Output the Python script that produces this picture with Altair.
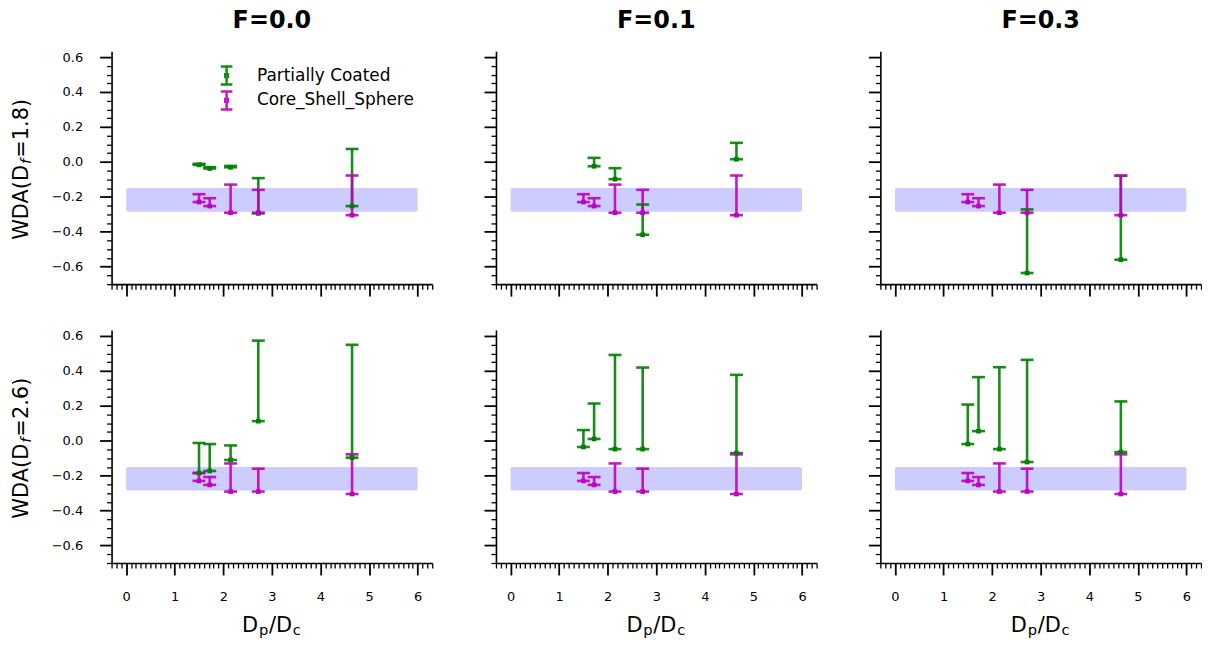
import altair as alt
import pandas as pd

# ---------------- data ----------------
XS = [1.5, 1.72, 2.15, 2.72, 4.65]
SERIES = ["Partially Coated", "Core_Shell_Sphere"]
COLORS = ["#008000", "#bf00bf"]
F_TITLES = ["F=0.0", "F=0.1", "F=0.3"]
DF_VALUES = ["1.8", "2.6"]

# Core_Shell_Sphere (identical in every panel)
CS_LOW = [-0.230, -0.253, -0.291, -0.291, -0.305]
CS_HIGH = [-0.185, -0.208, -0.130, -0.160, -0.078]

# Partially Coated, Df=1.8
PC_LOW_18_F00 = [-0.017, -0.038, -0.031, -0.295, -0.253]
PC_HIGH_18_F00 = [-0.011, -0.030, -0.023, -0.093, 0.074]
PC_LOW_18_F01 = [None, -0.025, -0.099, -0.417, 0.015]
PC_HIGH_18_F01 = [None, 0.023, -0.036, -0.244, 0.109]
PC_LOW_18_F03 = [None, None, None, -0.636, -0.560]
PC_HIGH_18_F03 = [None, None, None, -0.272, -0.080]

# Partially Coated, Df=2.6
PC_LOW_26_F00 = [-0.185, -0.173, -0.110, 0.112, -0.097]
PC_HIGH_26_F00 = [-0.013, -0.019, -0.027, 0.573, 0.549]
PC_LOW_26_F01 = [-0.036, 0.010, -0.048, -0.048, -0.071]
PC_HIGH_26_F01 = [0.061, 0.213, 0.491, 0.419, 0.377]
PC_LOW_26_F03 = [-0.019, 0.055, -0.048, -0.122, -0.065]
PC_HIGH_26_F03 = [0.207, 0.364, 0.421, 0.463, 0.225]

PC_LOW = [[PC_LOW_18_F00, PC_LOW_18_F01, PC_LOW_18_F03],
          [PC_LOW_26_F00, PC_LOW_26_F01, PC_LOW_26_F03]]
PC_HIGH = [[PC_HIGH_18_F00, PC_HIGH_18_F01, PC_HIGH_18_F03],
           [PC_HIGH_26_F00, PC_HIGH_26_F01, PC_HIGH_26_F03]]

# reference band
BAND_X0, BAND_X1 = [0.0], [6.0]
BAND_Y0, BAND_Y1 = [-0.285], [-0.150]

X_DOMAIN = [-0.3, 6.3]
Y_DOMAIN = [-0.7, 0.634]
X_TICKS = [round(-0.3 + 0.1 * i, 1) for i in range(67)]
Y_TICKS = [round(-0.7 + 0.05 * i, 2) for i in range(27)]

# ---------------- layout ----------------
W, H = 322, 234
FONT = "DejaVu Sans"
TITLE_SIZE = 21
SUB_SIZE = 14.7

X_MAJOR = "abs(datum.value - round(datum.value)) < 0.001"
Y_MAJOR = "abs(datum.value*5 - round(datum.value*5)) < 0.001"

LEGEND_PATH = ("M-0.65,-1H0.65M0,-1V1M-0.65,1H0.65"
               "M-0.15,-0.15H0.15V0.15H-0.15Z")


def x_axis(show_labels):
    return alt.Axis(
        values=X_TICKS, title=None, grid=False,
        domainColor="black", domainWidth=1.6,
        tickColor="black",
        tickSize={"condition": {"test": X_MAJOR, "value": 12}, "value": 5},
        tickWidth={"condition": {"test": X_MAJOR, "value": 1.8}, "value": 1.3},
        labels=show_labels,
        labelExpr=f"({X_MAJOR}) ? format(datum.value, 'd') : ''",
        labelFont=FONT, labelFontSize=13, labelColor="black",
        labelPadding=16, labelFlush=False, labelOverlap=False,
    )


def y_axis(show_labels):
    return alt.Axis(
        values=Y_TICKS, title=None, grid=False,
        domainColor="black", domainWidth=1.6,
        tickColor="black",
        tickSize={"condition": {"test": Y_MAJOR, "value": 12}, "value": 5},
        tickWidth={"condition": {"test": Y_MAJOR, "value": 1.8}, "value": 1.3},
        labels=show_labels,
        labelExpr=f"({Y_MAJOR}) ? replace(format(datum.value, '.1f'), '-', '\u2212') : ''",
        labelFont=FONT, labelFontSize=13, labelColor="black",
        labelPadding=17, labelFlush=False, labelOverlap=False,
    )


def piece(text, x, y, size, angle=0, italic=False):
    return alt.Chart(pd.DataFrame({"k": [0]})).mark_text(
        text=text, font=FONT, fontSize=size, angle=angle, align="left",
        baseline="alphabetic", color="black",
        fontStyle="italic" if italic else "normal",
    ).encode(x=alt.value(x), y=alt.value(y))


def panel(r, c):
    rows = []
    for s, lows, highs in [(SERIES[0], PC_LOW[r][c], PC_HIGH[r][c]),
                           (SERIES[1], CS_LOW, CS_HIGH)]:
        for x, lo, hi in zip(XS, lows, highs):
            if lo is None:
                continue
            rows.append({"series": s, "x": x, "lo": lo, "hi": hi})
    df = pd.DataFrame(rows)

    xs = alt.Scale(domain=X_DOMAIN, nice=False, zero=False)
    ys = alt.Scale(domain=Y_DOMAIN, nice=False, zero=False)
    xa = x_axis(r == 1)
    ya = y_axis(c == 0)

    show_legend = (r == 0 and c == 0)
    legend = alt.Legend(
        orient="none", legendX=105, legendY=14, title=None,
        symbolType=LEGEND_PATH, symbolSize=324, symbolStrokeWidth=2.5,
        symbolOpacity=0.9, labelFont=FONT, labelFontSize=17,
        labelColor="black", labelOffset=20, rowPadding=-4, padding=0,
    ) if show_legend else None
    cscale = alt.Scale(domain=SERIES, range=COLORS)

    band = alt.Chart(pd.DataFrame({"x0": BAND_X0, "x1": BAND_X1,
                                   "y0": BAND_Y0, "y1": BAND_Y1})).mark_rect(
        color="#0000ff", opacity=0.2, cornerRadius=2
    ).encode(
        x=alt.X("x0:Q", scale=xs, axis=xa), x2="x1:Q",
        y=alt.Y("y0:Q", scale=ys, axis=ya), y2="y1:Q",
    )

    base = alt.Chart(df)
    rule = base.mark_rule(strokeWidth=2.6, opacity=0.9).encode(
        x=alt.X("x:Q", scale=xs, axis=xa),
        y=alt.Y("lo:Q", scale=ys, axis=ya), y2="hi:Q",
        color=alt.Color("series:N", scale=cscale, legend=legend, sort=SERIES),
    )
    cap_lo = base.mark_tick(orient="horizontal", size=13, thickness=2.6,
                            opacity=0.9).encode(
        x=alt.X("x:Q", scale=xs, axis=xa),
        y=alt.Y("lo:Q", scale=ys, axis=ya),
        color=alt.Color("series:N", scale=cscale, legend=None),
    )
    cap_hi = base.mark_tick(orient="horizontal", size=13, thickness=2.6,
                            opacity=0.9).encode(
        x=alt.X("x:Q", scale=xs, axis=xa),
        y=alt.Y("hi:Q", scale=ys, axis=ya),
        color=alt.Color("series:N", scale=cscale, legend=None),
    )
    pts = base.mark_point(shape="square", filled=True, size=22,
                          opacity=1).encode(
        x=alt.X("x:Q", scale=xs, axis=xa),
        y=alt.Y("lo:Q", scale=ys, axis=ya),
        color=alt.Color("series:N", scale=cscale, legend=None),
    )

    layers = [band, rule, cap_lo, cap_hi, pts]

    if c == 0:
        # y title  WDA(D_f=...)
        y0 = 189.5
        bx = -84
        layers += [
            piece("WDA(D", bx, y0, TITLE_SIZE, angle=270),
            piece("f", bx + 3, y0 - 76.2, SUB_SIZE, angle=270, italic=True),
            piece(f"={DF_VALUES[r]})", bx, y0 - 82.4, TITLE_SIZE, angle=270),
        ]
    if r == 1:
        # x title  D_p/D_c
        by = H + 69
        layers += [
            piece("D", 131.0, by, TITLE_SIZE),
            piece("p", 148.0, by + 3, SUB_SIZE),
            piece("/D", 158.0, by, TITLE_SIZE),
            piece("c", 182.0, by + 3, SUB_SIZE),
        ]

    ch = alt.layer(*layers).properties(width=W, height=H)
    if r == 0:
        ch = ch.properties(title=alt.TitleParams(
            F_TITLES[c], font=FONT, fontSize=24, fontWeight="bold",
            color="black", anchor="middle", baseline="alphabetic", offset=-1))
    return ch


panels = [panel(r, c) for r in range(2) for c in range(3)]

chart = alt.concat(
    *panels, columns=3, spacing={"row": 46, "column": 64}, bounds="flush"
).resolve_scale(
    color="independent"
).properties(
    padding={"left": 2, "top": -1, "right": 0, "bottom": 0}
).configure(font=FONT).configure_view(stroke=None)

chart.save("out.html", embed_options={"renderer": "svg", "actions": False})
